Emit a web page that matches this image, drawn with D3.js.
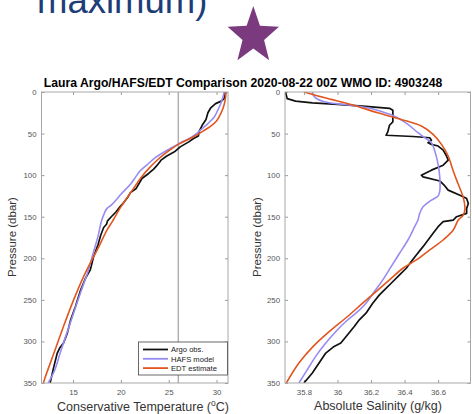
<!DOCTYPE html>
<html>
<head>
<meta charset="utf-8">
<script src="https://cdn.jsdelivr.net/npm/d3@7"></script>
<style>
  html, body { margin: 0; padding: 0; background: #fff; }
  svg { display: block; font-family: "Liberation Sans", Arial, Helvetica, sans-serif; }
</style>
</head>
<body>
<svg id="chart" width="472" height="414"></svg>
<script>
// ---- Profile data: [pressure (dbar), value] ----
const argoTemp = [
  [0,30.85],[3,30.9],[8,30.8],[11,30.5],[14,29.9],[19,29.4],[25,29.1],[33,28.9],[40,28.5],
  [47,28.2],[53,28.1],[56,27.6],[60,27.1],[66,26.2],[72,25.6],[77,24.8],[82,24.2],[88,23.8],
  [93,23.4],[98,22.9],[104,22.2],[110,21.9],[116,21.6],[121,21.0],[127,20.7],[133,20.3],
  [138,19.9],[144,19.5],[150,19.0],[155,18.6],[159,18.5],[163,18.2],[172,17.9],[184,17.6],
  [198,17.15],[214,16.8],[224,16.3],[238,15.8],[258,15.25],[274,14.75],[290,14.4],[302,14.0],
  [308,13.6],[314,13.35],[330,13.0],[340,12.8],[350,12.6]
];
const hafsTemp = [
  [0,30.8],[5,30.7],[15,30.4],[25,30.0],[31,29.7],[38,29.1],[43,28.6],[50,27.9],[55,27.3],
  [59,26.6],[64,25.8],[69,25.0],[79,23.6],[88,22.7],[95,22.0],[103,21.5],[111,21.0],
  [123,20.0],[130,19.5],[136,19.0],[140,18.55],[145,18.3],[156,17.95],[174,17.6],[194,17.1],
  [218,16.5],[242,15.76],[266,15.05],[290,14.35],[314,13.65],[334,13.1],[350,12.4]
];
const edtTemp = [
  [0,31.0],[10,30.9],[19,30.7],[27,30.4],[35,30.0],[41,29.4],[47,28.6],[55,27.4],[63,26.0],
  [70,25.1],[75,24.5],[83,23.7],[91,23.0],[103,22.1],[113,21.5],[123,20.9],[133,20.3],
  [140,19.9],[150,19.4],[156,19.1],[165,18.6],[174,18.2],[186,17.7],[198,17.15],[222,16.1],
  [250,15.06],[282,14.0],[314,13.0],[346,12.0],[350,11.9]
];
const argoSal = [
  [0,35.69],[8,35.70],[11,35.75],[13,35.85],[15,36.00],[17,36.15],[19.6,36.31],[22,36.33],
  [26,36.33],[36,36.33],[40,36.31],[48,36.30],[52,36.29],[53.5,36.45],[55,36.55],[58,36.56],
  [61,36.54],[63,36.56],[65,36.60],[70,36.63],[77,36.65],[82,36.66],[88,36.63],[94,36.56],
  [100,36.50],[102,36.51],[107,36.61],[113,36.64],[118,36.66],[125,36.74],[128,36.77],
  [134,36.78],[140,36.77],[146,36.77],[150,36.71],[154,36.69],[156,36.63],[162,36.60],
  [170,36.57],[178,36.54],[186,36.51],[196,36.47],[204,36.44],[212,36.41],[220,36.37],
  [230,36.32],[238,36.28],[244,36.25],[254,36.21],[266,36.17],[274,36.13],[282,36.10],
  [292,36.06],[302,36.02],[306,35.98],[314,35.93],[326,35.89],[338,35.85],[350,35.80]
];
const hafsSal = [
  [0,35.85],[5,35.86],[9,35.885],[13,35.95],[15,36.04],[19,36.18],[24,36.27],[29,36.34],
  [39,36.42],[49,36.48],[55,36.52],[61,36.56],[71,36.58],[87,36.60],[103,36.61],[119,36.61],
  [125,36.60],[130,36.56],[138,36.51],[146,36.49],[154,36.48],[162,36.46],[178,36.42],
  [194,36.37],[210,36.32],[226,36.27],[240,36.22],[254,36.17],[266,36.11],[276,36.05],
  [286,36.00],[302,35.93],[318,35.87],[334,35.82],[350,35.77]
];
const edtSal = [
  [0,35.80],[7,35.925],[15,36.08],[25,36.24],[33,36.38],[41,36.50],[51,36.57],[63,36.62],
  [77,36.66],[95,36.69],[111,36.72],[127,36.75],[140,36.76],[148,36.75],[154,36.72],
  [166,36.69],[178,36.63],[190,36.55],[202,36.47],[212,36.39],[226,36.31],[240,36.23],
  [254,36.15],[270,36.06],[290,35.94],[306,35.855],[326,35.77],[350,35.695]
];

// ---- Axis ticks and labels ----
const pressureTicks = [0, 50, 100, 150, 200, 250, 300, 350];
const tempTicks = [15, 20, 25, 30];
const salTicks = [35.8, 36, 36.2, 36.4, 36.6];
const referenceTemp = 26;
const seriesNames = ["Argo obs.", "HAFS model", "EDT estimate"];
const seriesColors = ["#111111", "#978cf2", "#e2561f"];
const titleText = "Laura Argo/HAFS/EDT Comparison 2020-08-22 00Z WMO ID: 4903248";

const svg = d3.select("#chart");

// Heading fragment and star marker above the figure
svg.append("text")
  .attr("x", 37).attr("y", 12.5)
  .attr("font-size", 36.5).attr("fill", "#1d3d79")
  .text("maximum)");

(function drawStar() {
  const cx = 253.3, cy = 36, rx = 27, ry = 30, inner = 0.42;
  const pts = [];
  for (let i = 0; i < 10; i++) {
    const a = -Math.PI / 2 + i * Math.PI / 5;
    const k = i % 2 === 0 ? 1 : inner;
    pts.push([cx + rx * k * Math.cos(a), cy + ry * k * Math.sin(a)]);
  }
  svg.append("path").attr("d", d3.line()(pts) + "Z").attr("fill", "#7b3a7e");
})();

svg.append("text")
  .attr("x", 243).attr("y", 86.5)
  .attr("text-anchor", "middle")
  .attr("font-size", 12.2).attr("font-weight", "bold").attr("fill", "#000")
  .text(titleText);

// ---- Shared scales ----
const y = d3.scaleLinear().domain([0, 350]).range([92, 383]);
const xT = d3.scaleLinear().domain([11.7, 31.2]).range([41.5, 228]);
const xS = d3.scaleLinear().domain([35.687, 36.793]).range([285, 470.5]);

function panel(id, x, xTicks, xFmt) {
  const [x0, x1] = x.range();
  const [y0, y1] = y.range();
  const g = svg.append("g");

  g.append("defs").append("clipPath").attr("id", id)
    .append("rect").attr("x", x0).attr("y", y0).attr("width", x1 - x0).attr("height", y1 - y0);

  g.append("rect").attr("x", x0).attr("y", y0).attr("width", x1 - x0).attr("height", y1 - y0)
    .attr("fill", "#fff");

  const styleAxis = sel => {
    sel.select(".domain").remove();
    sel.selectAll(".tick line").attr("stroke", "#9a9a9a");
    sel.selectAll(".tick text").attr("fill", "#555").attr("font-size", 7.8)
      .attr("font-family", "\"Liberation Sans\", Arial, sans-serif");
  };

  g.append("g").attr("transform", `translate(${x0},0)`)
    .call(d3.axisLeft(y).tickValues(pressureTicks).tickSize(-3).tickPadding(5))
    .call(styleAxis);
  g.append("g").attr("transform", `translate(${x1},0)`)
    .call(d3.axisRight(y).tickValues(pressureTicks).tickSize(-3).tickFormat(""))
    .call(styleAxis);
  g.append("g").attr("transform", `translate(0,${y1})`)
    .call(d3.axisBottom(x).tickValues(xTicks).tickSize(-3).tickPadding(6).tickFormat(xFmt))
    .call(styleAxis);
  g.append("g").attr("transform", `translate(0,${y0})`)
    .call(d3.axisTop(x).tickValues(xTicks).tickSize(-3).tickFormat(""))
    .call(styleAxis);

  const plot = g.append("g").attr("clip-path", `url(#${id})`);
  return { g, plot };
}

function drawSeries(plot, x, data) {
  data.forEach((d, i) => {
    const line = d3.line()
      .x(p => x(p[1])).y(p => y(p[0]))
      .curve(i === 0 ? d3.curveLinear : d3.curveCatmullRom.alpha(0.5));
    plot.append("path").attr("d", line(d))
      .attr("fill", "none").attr("stroke", seriesColors[i])
      .attr("stroke-width", i === 0 ? 1.7 : 1.6)
      .attr("stroke-linejoin", "round");
  });
}

function frame(g, x) {
  const [x0, x1] = x.range();
  const [y0, y1] = y.range();
  g.append("rect").attr("x", x0).attr("y", y0).attr("width", x1 - x0).attr("height", y1 - y0)
    .attr("fill", "none").attr("stroke", "#a8a8a8").attr("stroke-width", 1);
}

// ---- Temperature panel ----
const left = panel("clipT", xT, tempTicks, d3.format("d"));
left.plot.append("line")
  .attr("x1", xT(referenceTemp)).attr("x2", xT(referenceTemp))
  .attr("y1", y(0)).attr("y2", y(350))
  .attr("stroke", "#a0a0a0").attr("stroke-width", 1.2);
drawSeries(left.plot, xT, [argoTemp, hafsTemp, edtTemp]);
frame(left.g, xT);

// ---- Salinity panel ----
const right = panel("clipS", xS, salTicks, d => d3.format("")(+d.toFixed(1)));
drawSeries(right.plot, xS, [argoSal, hafsSal, edtSal]);
frame(right.g, xS);

// ---- Axis titles ----
svg.append("text")
  .attr("transform", "translate(16,237) rotate(-90)")
  .attr("text-anchor", "middle").attr("font-size", 11.5).attr("fill", "#333")
  .text("Pressure (dbar)");
svg.append("text")
  .attr("transform", "translate(261,237) rotate(-90)")
  .attr("text-anchor", "middle").attr("font-size", 11.5).attr("fill", "#333")
  .text("Pressure (dbar)");

const xl = svg.append("text")
  .attr("x", 143).attr("y", 411)
  .attr("text-anchor", "middle").attr("font-size", 12.5).attr("fill", "#333");
xl.append("tspan").text("Conservative Temperature (");
xl.append("tspan").attr("font-size", 8.5).attr("dy", -5).text("o");
xl.append("tspan").attr("dy", 5).text("C)");

svg.append("text")
  .attr("x", 378).attr("y", 410)
  .attr("text-anchor", "middle").attr("font-size", 12.5).attr("fill", "#333")
  .text("Absolute Salinity (g/kg)");

// ---- Legend ----
const lg = svg.append("g");
lg.append("rect").attr("x", 138.5).attr("y", 342).attr("width", 89).attr("height", 33)
  .attr("fill", "#fff").attr("stroke", "#444").attr("stroke-width", 0.8);
seriesNames.forEach((name, i) => {
  const yy = 349.5 + i * 9.3;
  lg.append("line").attr("x1", 143).attr("x2", 168).attr("y1", yy).attr("y2", yy)
    .attr("stroke", seriesColors[i]).attr("stroke-width", 1.8);
  lg.append("text").attr("x", 171).attr("y", yy + 2.7)
    .attr("font-size", 7.6).attr("fill", "#222").text(name);
});
</script>
</body>
</html>
